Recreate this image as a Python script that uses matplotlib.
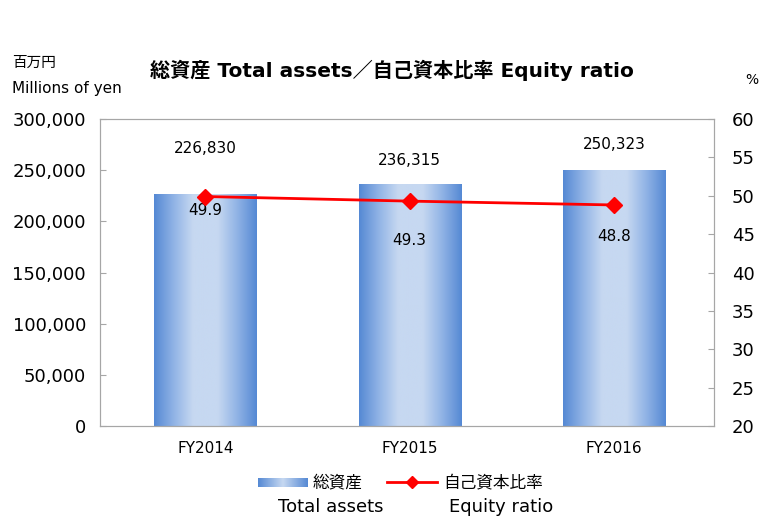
import numpy as np
import matplotlib
matplotlib.use("Agg")
from matplotlib import pyplot as plt
from matplotlib.colors import LinearSegmentedColormap
from matplotlib.lines import Line2D
from matplotlib.patches import Rectangle

plt.rcParams['font.family'] = ['DejaVu Sans', 'Noto Sans CJK JP']

# データ
years = ['FY2014', 'FY2015', 'FY2016']
total_assets = [226830, 236315, 250323]
equity_ratio = [49.9, 49.3, 48.8]
asset_labels = ['226,830', '236,315', '250,323']
ratio_labels = ['49.9', '49.3', '48.8']

grey = '#a6a6a6'

fig = plt.figure(figsize=(7.6, 5.16), dpi=100)
ax = fig.add_axes([100 / 760, 1 - 426 / 516, 614 / 760, 307 / 516])
ax2 = ax.twinx()

x = np.arange(len(years))
w = 0.5
cmap = LinearSegmentedColormap.from_list(
    'bar', [(0, '#5589d4'), (0.2, '#93b5e6'), (0.38, '#c6d8f1'), (0.62, '#c6d8f1'), (0.8, '#93b5e6'), (1, '#5589d4')])
grad = np.linspace(0, 1, 256).reshape(1, -1)
for i, v in enumerate(total_assets):
    im = ax.imshow(grad, cmap=cmap, aspect='auto', extent=(i - w / 2, i + w / 2, 0, v), zorder=2)
    rect = Rectangle((i - w / 2, 0), w, v, transform=ax.transData)
    im.set_clip_path(rect)

ax.set_xlim(-0.5165, 2.49)
ax.set_ylim(0, 300000)
ax.set_yticks(np.arange(0, 300001, 50000))
ax.set_yticklabels([f'{t:,}' for t in range(0, 300001, 50000)], fontsize=13)
ax.set_xticks(x)
ax.set_xticklabels(years, fontsize=11)
ax.tick_params(axis='x', length=0, pad=11)
ax.tick_params(axis='y', direction='in', length=4, color=grey, pad=10)

ax2.plot(x, equity_ratio, color='#ff0000', lw=2, marker='D', ms=8, zorder=5)
ax2.set_ylim(20, 60)
ax2.set_yticks(range(20, 61, 5))
ax2.tick_params(axis='y', direction='in', length=4, color=grey, labelsize=13, pad=13)

for a in (ax, ax2):
    for s in a.spines.values():
        s.set_color(grey)

# ラベル
asset_off = [33, 17, 18]
for i, v in enumerate(total_assets):
    ax.annotate(asset_labels[i], (i, v), xytext=(0, asset_off[i]), textcoords='offset points',
                ha='center', va='center', fontsize=11)
ratio_off = [-10, -28, -23]
for i, v in enumerate(equity_ratio):
    ax2.annotate(ratio_labels[i], (i, v), xytext=(0, ratio_off[i]), textcoords='offset points',
                 ha='center', va='center', fontsize=11)

fig.text(392 / 760, 1 - 70 / 516, '総資産 Total assets／自己資本比率 Equity ratio', ha='center', va='center',
         fontsize=14.5, fontweight='bold')
fig.text(12 / 760, 1 - 62 / 516, '百万円', ha='left', va='center', fontsize=10.5)
fig.text(12 / 760, 1 - 88 / 516, 'Millions of yen', ha='left', va='center', fontsize=11)
fig.text(752 / 760, 1 - 80 / 516, '%', ha='center', va='center', fontsize=10)

# 凡例
lx = fig.add_axes([258 / 760, 1 - 487 / 516, 50 / 760, 9 / 516])
lx.imshow(grad, cmap=LinearSegmentedColormap.from_list('l', ['#5589d4', '#c6d8f1', '#5589d4']), aspect='auto')
lx.axis('off')
fig.text(313 / 760, 1 - 482 / 516, '総資産', ha='left', va='center', fontsize=12)
fig.text(331 / 760, 1 - 507 / 516, 'Total assets', ha='center', va='center', fontsize=13)
fig.add_artist(Line2D([387 / 760, 437 / 760], [1 - 482 / 516] * 2, color='#ff0000', lw=2,
                      transform=fig.transFigure))
fig.add_artist(Line2D([412 / 760], [1 - 482 / 516], color='#ff0000', marker='D', ms=6,
                      transform=fig.transFigure))
fig.text(443 / 760, 1 - 482 / 516, '自己資本比率', ha='left', va='center', fontsize=12)
fig.text(501 / 760, 1 - 507 / 516, 'Equity ratio', ha='center', va='center', fontsize=13)

fig.savefig('out.png', dpi=100)
